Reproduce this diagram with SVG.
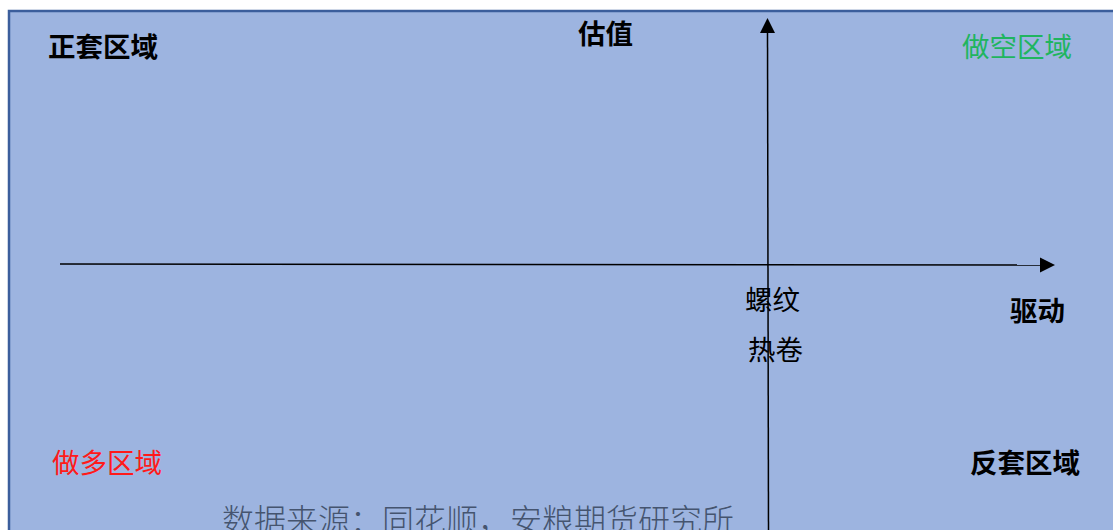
<svg xmlns="http://www.w3.org/2000/svg" width="1113" height="530" viewBox="0 0 1113 530">
<defs>
<style>
.t{font-family:"Noto Sans CJK SC","Noto Sans",sans-serif;font-size:27.5px;fill:#000}
.b{font-weight:bold}
.ax{stroke:#000;stroke-width:1.5;fill:none}
</style>
</defs>
<rect width="1113" height="530" fill="#ffffff"/>
<rect id="bg" x="9" y="11" width="1120" height="540" fill="#9db4e0" stroke="#3b5e9c" stroke-width="2.5"/>
<g id="connectors">
<line class="ax" x1="60" y1="264" x2="1041" y2="265"/>
<path d="M1040,257.5 L1055,265 L1040,272.5 Z" fill="#000"/>
<line class="ax" x1="768.5" y1="532" x2="767.5" y2="32"/>
<path d="M760,33 L767.5,18 L775,33 Z" fill="#000"/>
</g>
<g id="n-zhengtao"><text class="t b" x="48" y="57">正套区域</text></g>
<g id="n-guzhi"><text class="t b" x="578" y="44">估值</text></g>
<g id="n-zuokong"><text class="t" x="962" y="57" style="fill:#1fb55f">做空区域</text></g>
<g id="n-luowen"><text class="t" x="745" y="310">螺纹</text></g>
<g id="n-rejuan"><text class="t" x="748" y="360">热卷</text></g>
<g id="n-qudong"><text class="t b" x="1010" y="321">驱动</text></g>
<g id="n-zuoduo"><text class="t" x="52" y="473" style="fill:#ff1a1a">做多区域</text></g>
<g id="n-fantao"><text class="t b" x="970" y="473">反套区域</text></g>
<g id="n-source"><text x="222" y="532" style="font-family:'Noto Sans CJK SC',serif;font-size:32px;fill:#45546f;font-weight:300">数据来源：同花顺，安粮期货研究所</text></g>
</svg>
